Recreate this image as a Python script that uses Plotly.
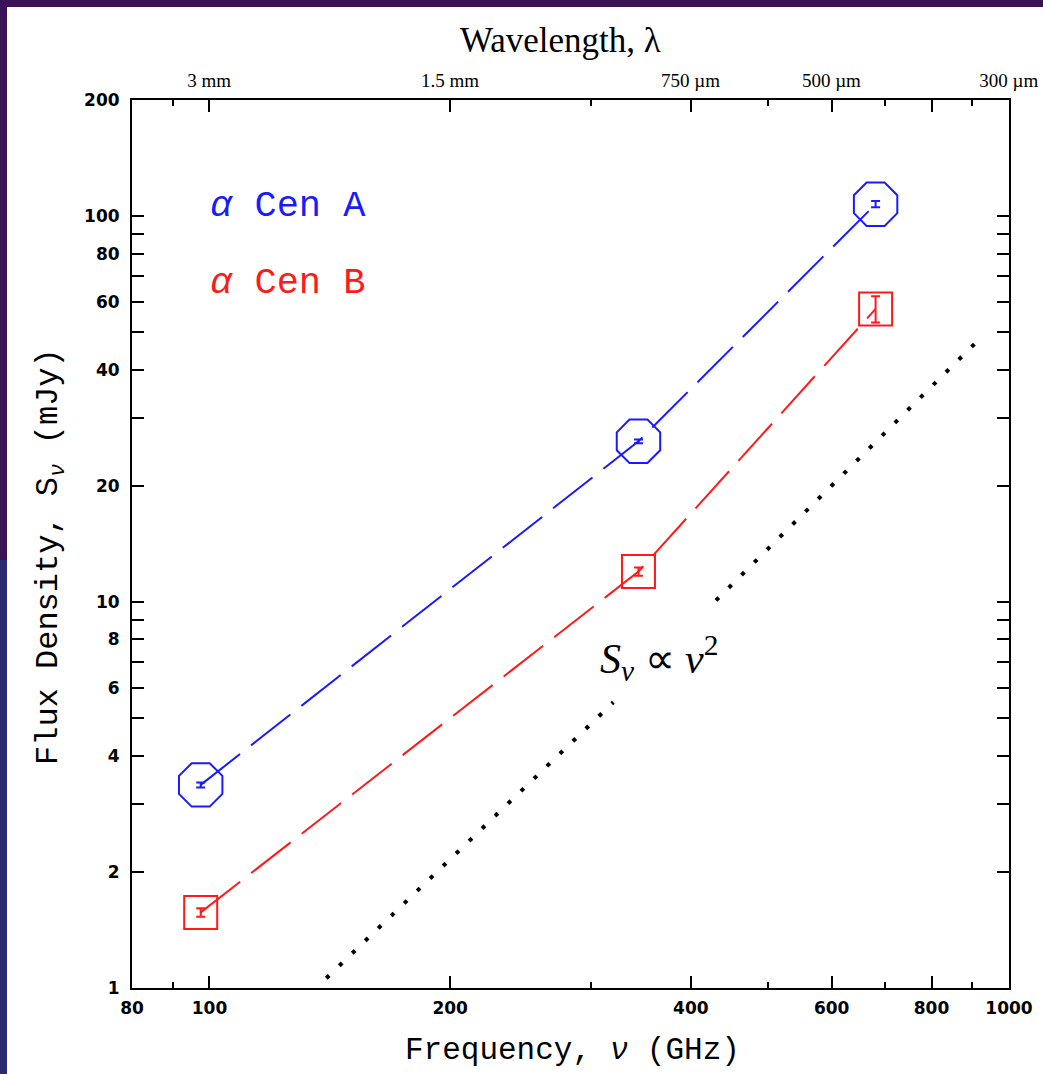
import math
import plotly.graph_objects as go

# ---- data ----
freq_ghz = [97.5, 344.0, 681.0]
flux_a = [3.36, 26.1, 107.4]
err_a = [0.05, 0.3, 2.0]
flux_b = [1.57, 12.0, 57.5]
err_b = [0.04, 0.3, 4.5]

# S ~ nu^2 reference line (two dotted segments, gap for label)
pl_nu_1 = [140.0, 320.0]
pl_s_1 = [1.06, 5.5]
pl_nu_2 = [430.0, 918.0]
pl_s_2 = [10.1, 48.0]

x_major = [80, 100, 200, 400, 600, 800, 1000]
x_minor = [90, 300, 500, 700, 900]
y_major = [1, 2, 4, 6, 8, 10, 20, 40, 60, 80, 100, 200]
y_minor = [3, 5, 7, 9, 30, 50, 70, 90]
wl_vals = [99.93, 199.86, 399.72, 599.58, 999.3]
wl_text = ["3 mm", "1.5 mm", "750 µm", "500 µm", "300 µm"]

W, H = 1043, 1074
L, R, T, B = 132, 34, 100, 86
pw, ph = W - L - R, H - T - B

def px(x):
    return (x - L) / pw

def py(y):
    return (H - B - y) / ph

BLUE = "#1a1aff"
RED = "#ff1a1a"

fig = go.Figure()

fig.add_trace(go.Scatter(x=pl_nu_1, y=pl_s_1, mode="lines",
                         line=dict(color="black", width=4, dash="4px,14px"),
                         hoverinfo="skip"))
fig.add_trace(go.Scatter(x=pl_nu_2, y=pl_s_2, mode="lines",
                         line=dict(color="black", width=4, dash="4px,14px"),
                         hoverinfo="skip"))

fig.add_trace(go.Scatter(
    x=freq_ghz, y=flux_a, mode="lines+markers",
    line=dict(color=BLUE, width=2, dash="50px,14px"),
    marker=dict(symbol="octagon-open", size=47, color=BLUE, line=dict(width=2, color=BLUE)),
    error_y=dict(type="data", array=err_a, color=BLUE, thickness=2, width=4.5),
))
fig.add_trace(go.Scatter(
    x=freq_ghz, y=flux_b, mode="lines+markers",
    line=dict(color=RED, width=2, dash="50px,14px"),
    marker=dict(symbol="square-open", size=33, color=RED, line=dict(width=2, color=RED)),
    error_y=dict(type="data", array=err_b, color=RED, thickness=2, width=4.5),
))
# invisible trace on the top axis
fig.add_trace(go.Scatter(x=[80, 1000], y=[1, 1], xaxis="x2", mode="markers",
                         marker=dict(opacity=0), hoverinfo="skip"))

xr = [math.log10(80), math.log10(1000)]
yr = [math.log10(1), math.log10(200)]

tickfont = dict(family="DejaVu Sans", size=17, color="black", weight="bold")

fig.update_layout(
    width=W, height=H,
    margin=dict(l=L, r=R, t=T, b=B),
    paper_bgcolor="#3a1258",
    plot_bgcolor="white",
    showlegend=False,
    xaxis=dict(type="log", range=xr, tickvals=x_major, ticktext=[str(v) for v in x_major],
               ticks="inside", ticklen=12, tickwidth=2, tickcolor="black",
               minor=dict(tickvals=x_minor, ticks="inside", ticklen=6, tickwidth=1.5, tickcolor="black"),
               showline=True, linewidth=2, linecolor="black", mirror="allticks",
               showgrid=False, zeroline=False, tickfont=tickfont, ticklabelstandoff=4,
               automargin=False),
    yaxis=dict(type="log", range=yr, tickvals=y_major, ticktext=[str(v) for v in y_major],
               ticks="inside", ticklen=12, tickwidth=2, tickcolor="black",
               minor=dict(tickvals=y_minor, ticks="inside", ticklen=6, tickwidth=1.5, tickcolor="black"),
               showline=True, linewidth=2, linecolor="black", mirror="allticks",
               showgrid=False, zeroline=False, tickfont=tickfont, ticklabelstandoff=7,
               automargin=False),
    xaxis2=dict(type="log", range=xr, overlaying="x", side="top", anchor="y",
                tickvals=wl_vals, ticktext=wl_text, ticks="", showgrid=False,
                showline=False, zeroline=False, ticklabelstandoff=8, automargin=False,
                tickfont=dict(family="Liberation Serif", size=19, color="black")),
)

# slide background: white panel with purple/blue border on the top and left
fig.add_shape(type="rect", xref="paper", yref="paper",
              x0=px(0), x1=px(7), y0=py(H + 10), y1=py(560),
              fillcolor="#2b2c6e", line=dict(width=0), layer="below")
fig.add_shape(type="rect", xref="paper", yref="paper",
              x0=px(7), x1=px(W + 10), y0=py(H + 10), y1=py(7),
              fillcolor="white", line=dict(width=0), layer="below")

mono = "Liberation Mono"
fig.add_annotation(text="Frequency, <i>ν</i> (GHz)", xref="paper", yref="paper",
                   x=px(572), y=py(1050), showarrow=False, xanchor="center", yanchor="middle",
                   font=dict(family=mono, size=31, color="black"))
fig.add_annotation(text="Flux Density, S<sub><i>ν</i></sub> (mJy)", xref="paper", yref="paper",
                   x=px(50), y=py(557), showarrow=False, textangle=-90,
                   xanchor="center", yanchor="middle",
                   font=dict(family=mono, size=32, color="black"))
fig.add_annotation(text="Wavelength, λ", xref="paper", yref="paper",
                   x=px(560), y=py(40), showarrow=False, xanchor="center", yanchor="middle",
                   font=dict(family="Liberation Serif", size=35, color="black"))
fig.add_annotation(text="<i>α</i> Cen A", xref="paper", yref="paper",
                   x=px(208), y=py(206), showarrow=False, xanchor="left", yanchor="middle",
                   font=dict(family=mono, size=37, color=BLUE))
fig.add_annotation(text="<i>α</i> Cen B", xref="paper", yref="paper",
                   x=px(208), y=py(283), showarrow=False, xanchor="left", yanchor="middle",
                   font=dict(family=mono, size=37, color=RED))
fig.add_annotation(text="<i>S</i><sub><i>ν</i></sub> ∝ <i>ν</i><sup>2</sup>", xref="paper", yref="paper",
                   x=px(598), y=py(658), showarrow=False, xanchor="left", yanchor="middle",
                   font=dict(family="Liberation Serif", size=42, color="black"))

fig.write_html("out.html")
